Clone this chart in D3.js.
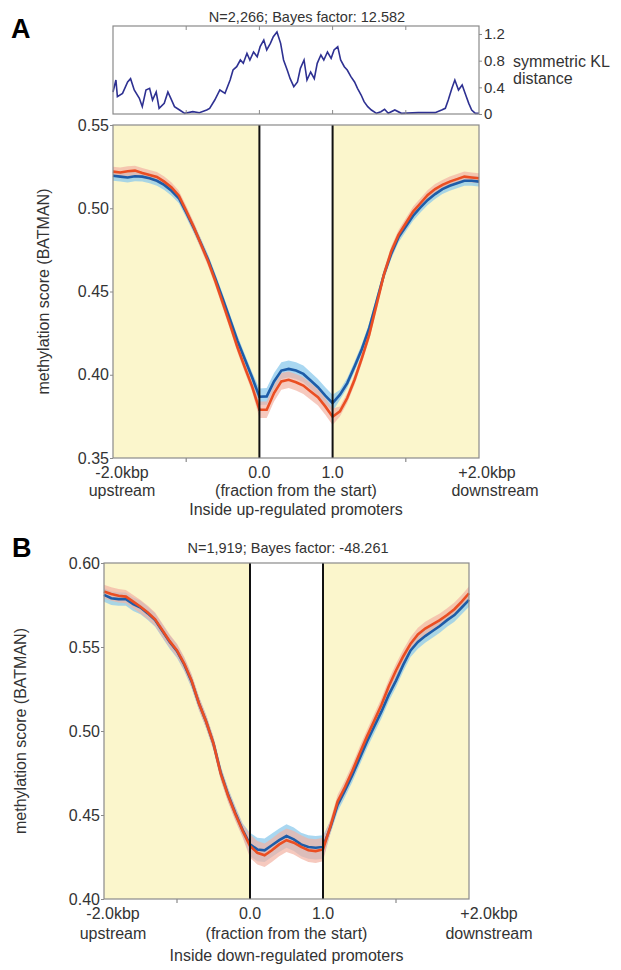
<!DOCTYPE html>
<html>
<head>
<meta charset="utf-8">
<script src="https://cdn.jsdelivr.net/npm/d3@7"></script>
<style>
    body { margin: 0; background: #fff; }
    svg { display: block; font-family: "Liberation Sans", Arial, sans-serif; }
</style>
</head>
<body>
<div id="chart"></div>
<script>
'use strict'

// Position along the profile: 0..2 = 2kbp upstream, 2..3 = inside promoter (fraction), 3..5 = 2kbp downstream.
const pos = [0.0, 0.1, 0.2, 0.3, 0.4, 0.5, 0.6, 0.7, 0.8, 0.9,
             1.0, 1.1, 1.2, 1.3, 1.4, 1.5, 1.6, 1.7, 1.8, 1.9,
             2.0, 2.1, 2.2, 2.3, 2.4, 2.5, 2.6, 2.7, 2.8, 2.9,
             3.0, 3.1, 3.2, 3.3, 3.4, 3.5, 3.6, 3.7, 3.8, 3.9,
             4.0, 4.1, 4.2, 4.3, 4.4, 4.5, 4.6, 4.7, 4.8, 4.9, 5.0];

// Panel A: up-regulated promoters.
const upBlue = [0.5195, 0.5190, 0.5185, 0.5192, 0.5190, 0.5180, 0.5165, 0.5140, 0.5105, 0.5060,
                0.4975, 0.4885, 0.4790, 0.4690, 0.4575, 0.4455, 0.4330, 0.4205, 0.4095, 0.3985,
                0.3868, 0.3870, 0.3960, 0.4025, 0.4035, 0.4025, 0.4005, 0.3965, 0.3925, 0.3875,
                0.3830, 0.3880, 0.3950, 0.4050, 0.4155, 0.4280, 0.4440, 0.4600, 0.4725, 0.4825,
                0.4890, 0.4955, 0.5005, 0.5050, 0.5085, 0.5115, 0.5135, 0.5150, 0.5165, 0.5165, 0.5160];
const upRed = [0.5220, 0.5215, 0.5222, 0.5226, 0.5212, 0.5200, 0.5188, 0.5160, 0.5125, 0.5075,
               0.4985, 0.4890, 0.4785, 0.4680, 0.4560, 0.4430, 0.4300, 0.4165, 0.4045, 0.3930,
               0.3790, 0.3790, 0.3890, 0.3960, 0.3970, 0.3955, 0.3935, 0.3900, 0.3865, 0.3810,
               0.3748, 0.3780, 0.3860, 0.3970, 0.4100, 0.4240, 0.4420, 0.4600, 0.4740, 0.4840,
               0.4910, 0.4980, 0.5030, 0.5080, 0.5115, 0.5140, 0.5160, 0.5175, 0.5190, 0.5185, 0.5180];

// Panel B: down-regulated promoters.
const downBlue = [0.5810, 0.5790, 0.5785, 0.5785, 0.5755, 0.5735, 0.5700, 0.5660, 0.5595, 0.5530,
                  0.5475, 0.5395, 0.5295, 0.5165, 0.5055, 0.4925, 0.4750, 0.4620, 0.4510, 0.4410,
                  0.4325, 0.4295, 0.4290, 0.4320, 0.4350, 0.4375, 0.4355, 0.4325, 0.4310, 0.4305,
                  0.4310, 0.4425, 0.4560, 0.4645, 0.4735, 0.4835, 0.4935, 0.5025, 0.5115, 0.5215,
                  0.5300, 0.5395, 0.5480, 0.5530, 0.5565, 0.5595, 0.5625, 0.5660, 0.5690, 0.5735, 0.5780];
const downRed = [0.5830, 0.5815, 0.5805, 0.5800, 0.5770, 0.5740, 0.5705, 0.5665, 0.5600, 0.5535,
                 0.5480, 0.5400, 0.5300, 0.5165, 0.5055, 0.4925, 0.4745, 0.4615, 0.4505, 0.4405,
                 0.4315, 0.4275, 0.4260, 0.4290, 0.4325, 0.4350, 0.4335, 0.4310, 0.4290, 0.4285,
                 0.4295, 0.4430, 0.4580, 0.4665, 0.4760, 0.4865, 0.4965, 0.5060, 0.5155, 0.5265,
                 0.5360, 0.5445, 0.5520, 0.5575, 0.5610, 0.5635, 0.5660, 0.5690, 0.5725, 0.5770, 0.5820];

// Error band half-width per region (upstream, inside, downstream).
const semUp = [0.003, 0.005, 0.003];
const semDown = [0.004, 0.007, 0.004];

// Symmetric KL distance between the two groups (panel A).
const klPos = [0.00, 0.04, 0.06, 0.13, 0.20, 0.24, 0.29, 0.36, 0.40, 0.45, 0.50, 0.54, 0.59, 0.63,
               0.70, 0.75, 0.79, 0.84, 0.91, 0.98, 1.09, 1.18, 1.28, 1.32, 1.39, 1.46, 1.53, 1.60,
               1.64, 1.69, 1.74, 1.78, 1.83, 1.87, 1.92, 1.97, 2.01, 2.06, 2.10, 2.15, 2.19, 2.24,
               2.29, 2.33, 2.38, 2.42, 2.47, 2.52, 2.56, 2.61, 2.65, 2.70, 2.75, 2.79, 2.84, 2.88,
               2.93, 2.98, 3.02, 3.07, 3.11, 3.16, 3.20, 3.25, 3.30, 3.34, 3.39, 3.43, 3.48, 3.53,
               3.60, 3.66, 3.71, 3.76, 3.85, 3.94, 4.17, 4.40, 4.49, 4.54, 4.58, 4.63, 4.67, 4.72,
               4.77, 4.81, 4.86, 4.90, 4.95, 5.00];
const klVal = [0.33, 0.51, 0.26, 0.31, 0.48, 0.53, 0.36, 0.235, 0.11, 0.36, 0.385, 0.21, 0.33, 0.085,
               0.16, 0.33, 0.235, 0.11, 0.06, 0.01, 0.035, 0.02, 0.06, 0.085, 0.21, 0.36, 0.31, 0.51,
               0.66, 0.71, 0.81, 0.76, 0.91, 0.81, 0.93, 0.86, 1.01, 1.11, 0.96, 1.06, 1.16, 1.23,
               1.06, 0.81, 0.66, 0.53, 0.41, 0.48, 0.685, 0.81, 0.51, 0.63, 0.53, 0.76, 0.885, 0.81,
               0.93, 0.835, 0.96, 1.01, 0.81, 0.71, 0.66, 0.56, 0.48, 0.385, 0.285, 0.185, 0.11, 0.06,
               0.01, 0.035, 0.07, 0.01, 0.06, 0.01, 0.02, 0.02, 0.06, 0.085, 0.21, 0.385, 0.51, 0.36,
               0.435, 0.31, 0.16, 0.06, 0.01, 0.01];

const ticksA = [0.35, 0.40, 0.45, 0.50, 0.55];
const ticksB = [0.40, 0.45, 0.50, 0.55, 0.60];
const klTicks = [0, 0.4, 0.8, 1.2];
const minorTicks = [1, 4];

const yellow = '#fbf6cc',
      blue = '#1d5ca8',
      blueBand = '#8ccaec',
      red = '#ea4e22',
      redBand = '#f2b2a2',
      frame = '#8a8a8a',
      ink = '#333';

let svg = d3.select('#chart')
    .append('svg')
        .attr('width', 621)
        .attr('height', 970);

svg.append('rect').attr('width', 621).attr('height', 970).attr('fill', '#fff');

function region(u) {
    return u < 2 ? 0 : (u <= 3 ? 1 : 2);
}

function panel(o) {
    let x = d3.scaleLinear().domain([0, 5]).range([o.left, o.right]);
    let y = d3.scaleLinear().domain(o.yDomain).range([o.bottom, o.top]);
    let g = svg.append('g');

    // Shaded flanks, white promoter body.
    [[0, 2], [3, 5]].forEach(([a, b]) => {
        g.append('rect')
            .attr('x', x(a)).attr('y', o.top)
            .attr('width', x(b) - x(a)).attr('height', o.bottom - o.top)
            .attr('fill', yellow);
    });

    let blueData = pos.map((u, i) => ({u: u, v: o.blue[i]}));
    let redData = pos.map((u, i) => ({u: u, v: o.red[i]}));

    let band = d3.area()
        .x(d => x(d.u))
        .y0(d => y(d.v - o.sem[region(d.u)]))
        .y1(d => y(d.v + o.sem[region(d.u)]));
    let line = d3.line().x(d => x(d.u)).y(d => y(d.v));

    g.append('path').datum(blueData).attr('d', band)
        .attr('fill', blueBand).attr('opacity', 0.75);
    g.append('path').datum(redData).attr('d', band)
        .attr('fill', redBand).attr('opacity', 0.7);
    g.append('path').datum(blueData).attr('d', line)
        .attr('fill', 'none').attr('stroke', blue).attr('stroke-width', 2.6);
    g.append('path').datum(redData).attr('d', line)
        .attr('fill', 'none').attr('stroke', red).attr('stroke-width', 2.6);

    // Promoter boundaries.
    [2, 3].forEach(u => {
        g.append('line')
            .attr('x1', x(u)).attr('x2', x(u))
            .attr('y1', o.top).attr('y2', o.bottom)
            .attr('stroke', '#111').attr('stroke-width', 2);
    });

    g.append('rect')
        .attr('x', o.left).attr('y', o.top)
        .attr('width', o.right - o.left).attr('height', o.bottom - o.top)
        .attr('fill', 'none').attr('stroke', frame).attr('stroke-width', 1.2);

    minorTicks.forEach(u => {
        g.append('line')
            .attr('x1', x(u)).attr('x2', x(u))
            .attr('y1', o.bottom).attr('y2', o.bottom + 4)
            .attr('stroke', frame).attr('stroke-width', 1.2);
    });

    // Y axis.
    let yAxis = g.append('g')
        .attr('transform', `translate(${o.left}, 0)`)
        .call(d3.axisLeft(y).tickValues(o.ticks).tickFormat(d3.format('.2f')).tickSize(3).tickPadding(1));
    yAxis.select('.domain').remove();
    yAxis.selectAll('line').attr('stroke', frame);
    yAxis.selectAll('text')
        .attr('font-size', 16).attr('fill', ink)
        .attr('font-family', '"Liberation Sans", Arial, sans-serif');

    g.append('text')
        .attr('transform', `translate(${o.yTitleX}, ${(o.top + o.bottom) / 2}) rotate(-90)`)
        .attr('text-anchor', 'middle')
        .attr('font-size', 16).attr('fill', ink)
        .text('methylation score (BATMAN)');

    // X labels.
    let labels = [
        ['-2.0kbp', o.leftLabelX, o.row1],
        ['upstream', o.leftLabelX, o.row2],
        ['0.0', x(2), o.row1],
        ['1.0', x(3), o.row1],
        ['(fraction from the start)', (x(2) + x(3)) / 2, o.row2],
        [o.caption, (x(2) + x(3)) / 2, o.row3],
        ['+2.0kbp', o.rightLabelX, o.row1],
        ['downstream', o.rightLabelX2, o.row2]
    ];
    g.selectAll('text.xlab')
        .data(labels)
        .join('text')
            .attr('class', 'xlab')
            .attr('x', d => d[0])
            .attr('x', d => d[1])
            .attr('y', d => d[2])
            .attr('text-anchor', 'middle')
            .attr('font-size', 16).attr('fill', ink)
            .text(d => d[0]);

    g.append('text')
        .attr('x', o.titleX).attr('y', o.titleY)
        .attr('text-anchor', 'middle')
        .attr('font-size', 14.5).attr('fill', ink)
        .text(o.title);

    g.append('text')
        .attr('x', o.letterX).attr('y', o.letterY)
        .attr('font-size', 27).attr('font-weight', 'bold').attr('fill', '#000')
        .text(o.letter);

    return x;
}

let xA = panel({
    left: 113, right: 479, top: 125, bottom: 458,
    yDomain: [0.35, 0.55], ticks: ticksA,
    blue: upBlue, red: upRed, sem: semUp,
    yTitleX: 49,
    leftLabelX: 122, rightLabelX: 487, rightLabelX2: 495,
    row1: 478, row2: 496, row3: 515,
    caption: 'Inside up-regulated promoters',
    title: 'N=2,266; Bayes factor: 12.582', titleX: 307, titleY: 22,
    letter: 'A', letterX: 11, letterY: 38
});

panel({
    left: 104, right: 469, top: 563, bottom: 899,
    yDomain: [0.40, 0.60], ticks: ticksB,
    blue: downBlue, red: downRed, sem: semDown,
    yTitleX: 26,
    leftLabelX: 113, rightLabelX: 489, rightLabelX2: 489,
    row1: 919, row2: 939, row3: 961,
    caption: 'Inside down-regulated promoters',
    title: 'N=1,919; Bayes factor: -48.261', titleX: 288, titleY: 553,
    letter: 'B', letterX: 12, letterY: 557
});

// KL distance strip above panel A.
let klTop = 26, klBottom = 114;
let yKL = d3.scaleLinear().domain([0, 1.32]).range([klBottom, klTop]);
let kl = svg.append('g');

kl.append('path')
    .datum(klPos.map((u, i) => ({u: u, v: klVal[i]})))
    .attr('d', d3.line().x(d => xA(d.u)).y(d => yKL(d.v)))
    .attr('fill', 'none').attr('stroke', '#2e3192').attr('stroke-width', 1.6);

kl.append('rect')
    .attr('x', xA(0)).attr('y', klTop)
    .attr('width', xA(5) - xA(0)).attr('height', klBottom - klTop)
    .attr('fill', 'none').attr('stroke', frame).attr('stroke-width', 1.2);

[1, 2, 3, 4].forEach(u => {
    kl.append('line').attr('x1', xA(u)).attr('x2', xA(u))
        .attr('y1', klTop).attr('y2', klTop + 4).attr('stroke', frame);
    kl.append('line').attr('x1', xA(u)).attr('x2', xA(u))
        .attr('y1', klBottom).attr('y2', klBottom - 4).attr('stroke', frame);
});

let klAxis = kl.append('g')
    .attr('transform', `translate(${xA(5)}, 0)`)
    .call(d3.axisRight(yKL).tickValues(klTicks).tickFormat(d => d === 0 ? '0' : d3.format('.1f')(d)).tickSize(3).tickPadding(2));
klAxis.select('.domain').remove();
klAxis.selectAll('line').attr('stroke', frame);
klAxis.selectAll('text')
    .attr('font-size', 15).attr('fill', ink)
    .attr('font-family', '"Liberation Sans", Arial, sans-serif');

kl.append('text').attr('x', 513).attr('y', 67)
    .attr('font-size', 16).attr('fill', ink).text('symmetric KL');
kl.append('text').attr('x', 513).attr('y', 84)
    .attr('font-size', 16).attr('fill', ink).text('distance');
</script>
</body>
</html>
